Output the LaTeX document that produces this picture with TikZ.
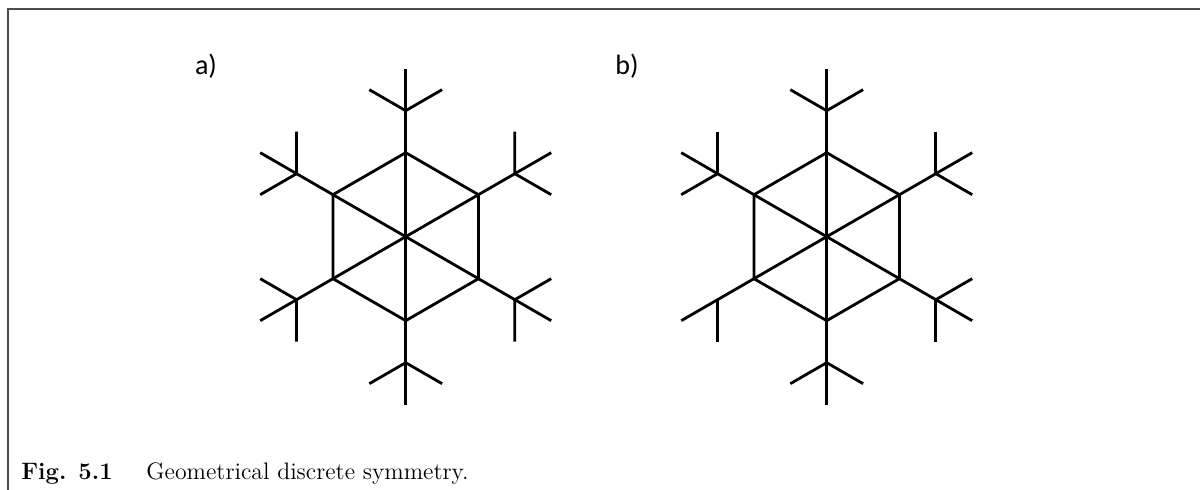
\documentclass[tikz,border=0pt]{standalone}
\usepackage{fontspec}
\newfontfamily\panelfont{Carlito}
\tikzset{flake/.style={line width=1.4pt, color=black}, frame/.style={line width=.8pt, color=black!70}, panel/.style={font=\panelfont\fontsize{14}{16}\selectfont, inner sep=0pt}, captxt/.style={anchor=base west, inner sep=0pt, font=\fontsize{11.9}{14}\selectfont}}

\begin{document}
\begin{tikzpicture}[x=.5pt,y=.5pt]
\useasboundingbox (0,0) rectangle (1200,490);
\draw[frame] (8,0) -- (8,481) -- (1200,481);
% a) full symmetry
\begin{scope}[shift={(405.7,253.3)}]
\draw[flake] (90:84) \foreach \a in {150,210,...,390} {-- (\a:84)} -- cycle;
\foreach \a in {90,150,...,390} {
  \draw[flake] (0,0) -- (\a:168);
  \draw[flake] (\a:126) -- ++(\a+60:42) (\a:126) -- ++(\a-60:42);
}
\end{scope}
% b) one branch missing
\begin{scope}[shift={(826.7,253.3)}]
\draw[flake] (90:84) \foreach \a in {150,210,...,390} {-- (\a:84)} -- cycle;
\foreach \a in {90,150,...,390} {
  \draw[flake] (0,0) -- (\a:168);
  \draw[flake] (\a:126) -- ++(\a+60:42);
}
\foreach \a in {90,150,270,330,390} \draw[flake] (\a:126) -- ++(\a-60:42);
\end{scope}
\node[panel] (lbla) at (206,424) {a)};
\node[panel] (lblb) at (627,424) {b)};
\node[captxt] (capno) at (21,10) {\textbf{Fig. 5.1}};
\node[captxt] (captext) at (146,10) {Geometrical discrete symmetry.};
\end{tikzpicture}
\end{document}
